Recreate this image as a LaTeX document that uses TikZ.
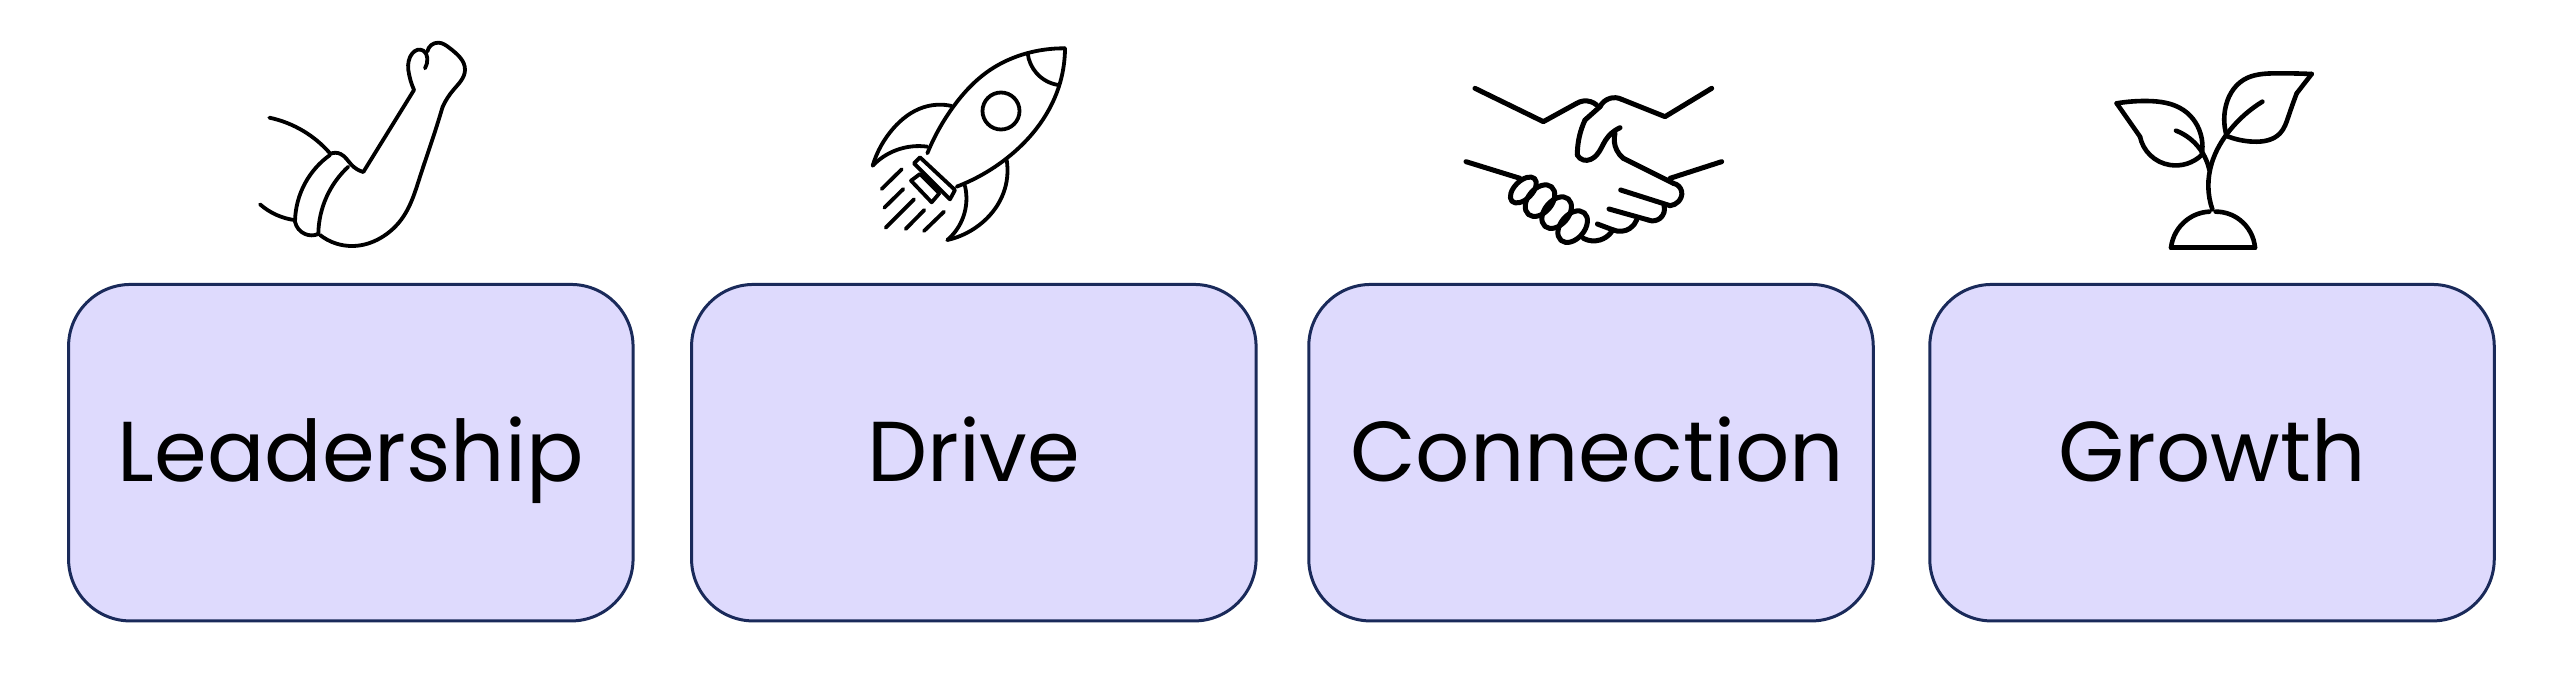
\documentclass[tikz,border=0pt]{standalone}
\usepackage{fontspec}
\usetikzlibrary{hobby}
\setmainfont{Poppins}
\definecolor{boxfill}{HTML}{DEDAFD}
\definecolor{boxline}{HTML}{1A2A5A}
\tikzset{
  card/.style={draw=boxline,line width=3pt,fill=boxfill,rounded corners=62pt,minimum width=564.5pt,minimum height=336.5pt,inner sep=0pt,text height=68pt,text depth=10pt,font=\fontsize{85}{90}\selectfont},
  icon/.style={draw=black,line width=3.8pt,line cap=round,line join=round,use Hobby shortcut},
  iconbold/.style={icon,line width=5pt},
  iconmid/.style={icon,line width=4.6pt},
  frame/.style={x=0.33333pt,y=-0.33333pt},
}
\begin{document}
\begin{tikzpicture}[x=1pt,y=-1pt]
\path[use as bounding box,fill=white] (0,0) rectangle (2563,682);
\node[card] (leadership) at (350.8,452.7) {Leadership};
\node[card] (drive) at (973.8,452.7) {Drive};
\node[card] (connection) at (1591,452.7) {\hspace*{12pt}Connection};
\node[card] (growth) at (2212,452.7) {Growth};
% arm
\begin{scope}[shift={(220,20)},frame]
\draw[icon] (148,293) .. (250,333) .. (330,400);
\draw[icon] (120,553) .. (170,585) .. (222,600);
\draw[icon] (330,402) .. (362,402) .. (395,435) .. (430,456);
\draw[icon] (430,456) -- (582,210);
\draw[icon] (582,210) .. (565,150) .. (610,92) .. (622,115) .. (615,145);
\draw[icon] (622,95) .. (655,68) .. (690,85) .. (735,150) .. (700,210) .. (668,260);
\draw[icon] (668,260) .. (640,350) .. (600,470) .. (550,590) .. (480,655) .. (400,678) .. (300,645);
\draw[icon] (295,642) .. (255,642) .. (225,605);
\draw[icon] (225,605) .. (255,490) .. (330,405);
\draw[icon] (295,640) .. (320,530) .. (385,440);
\end{scope}
% rocket
\begin{scope}[shift={(840,20)},frame]
\draw[icon] (675,85) .. (560,100) .. (450,150) .. (340,260) .. (262,400);
\draw[icon] (675,85) .. (655,205) .. (590,325) .. (500,415) .. (350,500);
\draw[icon] (563,100) .. (590,160) .. (655,195);
\draw[icon] (483,273) circle [radius=18.5pt];
\draw[icon] (335,258) .. (250,262) .. (160,325) .. (98,437);
\draw[icon] (98,437) .. (170,390) .. (262,380);
\draw[icon] (500,420) .. (490,520) .. (430,605) .. (322,660);
\draw[icon] (322,660) .. (370,590) .. (375,498);
\draw[icon] (240,412) -- (345,510) -- (330,538) -- (222,430) -- cycle;
\draw[icon] (240,462) -- (298,520) -- (275,547) -- (213,482) -- cycle;
\draw[icon] (125,507) -- (185,448);
\draw[icon] (133,563) -- (190,507);
\draw[icon] (137,623) -- (222,538);
\draw[icon] (197,627) -- (253,570);
\draw[icon] (252,633) -- (312,575);
\end{scope}
% handshake
\begin{scope}[shift={(1440,60)},frame]
\draw[iconbold] (105,85) -- (310,185) -- (410,130);
\draw[iconbold] (410,130) .. (430,123) .. (470,135);
\draw[iconbold] (815,85) -- (675,170) -- (545,118);
\draw[iconbold] (545,118) .. (510,115) .. (480,140);
\draw[iconbold] (480,140) -- (435,180);
\draw[iconbold] (435,180) .. (425,205) .. (412,285);
\draw[iconbold] (412,285) .. (430,300) .. (470,285) .. (497,240) .. (540,203);
\draw[iconbold] (525,220) .. (530,270) .. (550,295);
\draw[iconbold] (550,295) -- (700,370);
\draw[iconbold] (700,370) .. (725,395) .. (715,425) .. (690,437);
\draw[iconbold] (690,437) -- (542,390);
\draw[iconbold] (672,437) .. (660,475) .. (625,480);
\draw[iconbold] (625,480) -- (507,447);
\draw[iconbold] (590,480) .. (570,505) .. (520,510);
\draw[iconbold] (520,510) -- (472,492);
\draw[iconbold] (515,515) .. (480,540) .. (430,535);
\draw[iconbold] (78,305) -- (240,355);
\draw[iconbold] (690,355) -- (845,305);
\draw[iconbold,shift={(250,390)},rotate=45] (0,0) ellipse [x radius=16pt,y radius=9pt];
\draw[iconbold,shift={(300,422)},rotate=50] (0,0) ellipse [x radius=18pt,y radius=12pt];
\draw[iconbold,shift={(350,458)},rotate=50] (0,0) ellipse [x radius=18pt,y radius=12pt];
\draw[iconbold,shift={(398,500)},rotate=50] (0,0) ellipse [x radius=18pt,y radius=12pt];
\end{scope}
% plant
\begin{scope}[shift={(2090,50)},frame]
\draw[iconmid] (80,160) .. (170,153) .. (280,180) .. (335,265) .. (335,315);
\draw[iconmid] (335,315) .. (240,345) .. (180,315) .. (150,260);
\draw[iconmid] (150,260) -- (80,160);
\draw[iconmid] (665,72) .. (560,70) .. (460,90) .. (405,180) .. (410,258);
\draw[iconmid] (410,258) .. (490,275) .. (570,250) .. (595,200) .. (620,130);
\draw[iconmid] (620,130) -- (665,72);
\draw[iconmid] (258,242) .. (320,285) .. (358,360);
\draw[iconmid] (517,155) .. (420,240) .. (365,340) .. (355,410) .. (367,478);
\draw[iconmid] (243,593) -- (495,593);
\draw[iconmid] (243,593) .. (290,510) .. (358,485);
\draw[iconmid] (377,485) .. (450,510) .. (495,593);
\end{scope}
\end{tikzpicture}
\end{document}
